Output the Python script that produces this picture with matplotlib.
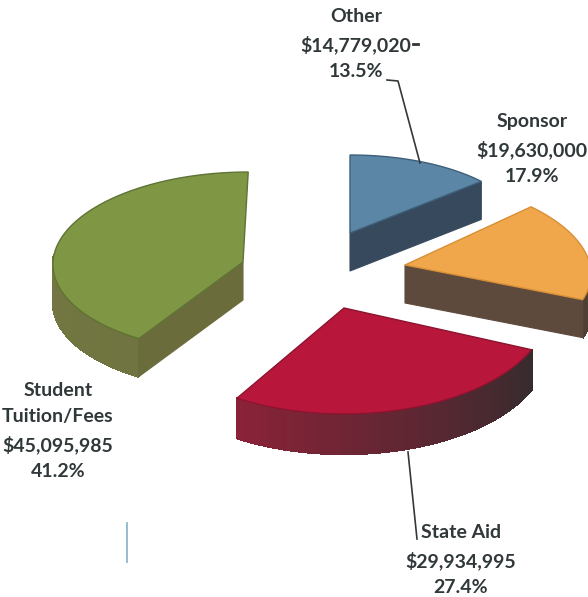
import numpy as np
import matplotlib
matplotlib.use('Agg')
import matplotlib.pyplot as plt
from matplotlib.colors import to_rgb

names = ['Other', 'Sponsor', 'State Aid', 'Student\nTuition/Fees']
values = [14779020, 19630000, 29934995, 45095985]
percents = ['13.5%', '17.9%', '27.4%', '41.2%']

# apex of every exploded slice in pixels, its radii and a small skew (perspective differs a bit)
centers = [(350, 233), (405, 265), (344, 308), (243, 262)]
radii = [(175, 78), (185, 88), (204, 106), (190, 90)]
skews = [0, -0.22, 0, 0.058]
depths = [38, 38, 40, 38]
face_cols = ['#5b86a6', '#f0a64a', '#b8163a', '#7f9645']
edge_cols = ['#3d5f7a', '#d98f35', '#8c1430', '#5f7335']
side_cols = ['#37495c', '#5d4a3c', '#4a2c30', '#6b6c3c']
arc_from = ['#37495c', '#5d4a3c', '#8a2238', '#6f7440']
arc_to = ['#2f3f4e', '#4f3f34', '#352c2e', '#7b7c45']
# which cut edge of the slice faces the viewer
cut_side = ['end', 'end', None, 'start']

fig = plt.figure(figsize=(5.88, 5.97), dpi=100)
ax = fig.add_axes([0, 0, 1, 1])
ax.set_xlim(0, 588)
ax.set_ylim(597, 0)
ax.axis('off')

plt.rcParams['font.family'] = ['Lato', 'DejaVu Sans']

ends = np.cumsum(values) / np.sum(values) * 360
starts = np.r_[0, ends[:-1]]


def project(i, ang):
    t = np.radians(ang)
    cx, cy = centers[i]
    a, b = radii[i]
    y = cy - b * np.cos(t)
    return cx + a * np.sin(t) + skews[i] * (cy - y), y


order = [0, 1, 3, 2]
for i in order:
    d = depths[i]
    cx, cy = centers[i]
    # rim, made of narrow strips so it can shade across; the back half stays hidden
    angs = np.linspace(starts[i], ends[i], 60)
    c0, c1 = np.array(to_rgb(arc_from[i])), np.array(to_rgb(arc_to[i]))
    for k in range(len(angs) - 1):
        if np.cos(np.radians(angs[k])) > 0.05:
            continue
        x0, y0 = project(i, angs[k])
        x1, y1 = project(i, angs[k + 1])
        f = k / (len(angs) - 2)
        if i == 2:
            f = 1 - f
        ax.fill([x0, x1, x1, x0], [y0, y1, y1 + d, y0 + d], color=c0 + (c1 - c0) * f, lw=1.0,
                antialiased=False, zorder=i + 1)
    # cut face towards the viewer
    if cut_side[i]:
        x, y = project(i, ends[i] if cut_side[i] == 'end' else starts[i])
        ax.fill([cx, x, x, cx], [cy, y, y + d, cy + d], color=side_cols[i], lw=0.8, zorder=i + 1)
    # top
    xs, ys = project(i, angs)
    ax.fill(np.r_[cx, xs], np.r_[cy, ys], facecolor=face_cols[i], edgecolor=edge_cols[i], lw=1.0, zorder=i + 1.5)

# leaders
ax.plot([387, 398, 420], [80, 81, 163], color='#33383a', lw=1.2, zorder=10)
ax.plot([408, 417], [452, 539], color='#33383a', lw=1.2, zorder=10)
ax.plot([127, 127], [523, 562], color='#8fb6cc', lw=1.3)
ax.plot([413, 418], [44, 44], color='#333333', lw=2)

txt = dict(ha='center', va='center', fontsize=14, fontweight='bold', color='#30383a', linespacing=1.65)
label_pos = [(356, 44), (532, 149), (461, 560), (58, 431)]
for i in range(4):
    s = names[i] + '\n${:,}\n'.format(values[i]) + percents[i]
    ax.text(label_pos[i][0], label_pos[i][1], s, zorder=11, **txt)

fig.savefig('out.png', dpi=100)
